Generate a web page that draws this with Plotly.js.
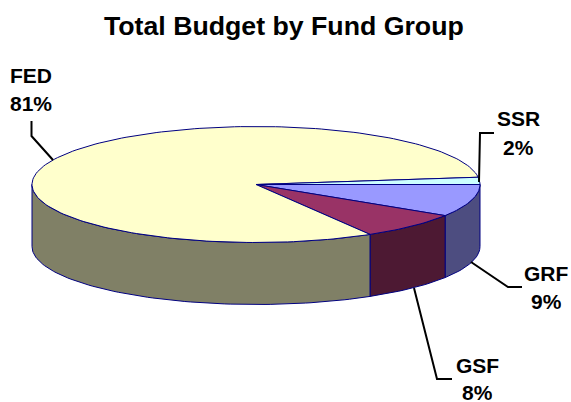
<!DOCTYPE html>
<html><head><meta charset="utf-8">
<script src="https://cdn.plot.ly/plotly-3.0.1.min.js"></script>
<style>html,body{margin:0;padding:0;background:#fff}#c{width:571px;height:402px}</style>
</head><body><div id="c"></div>
<script>
var chartTitle = "Total Budget by Fund Group";
var categories = ["GRF", "GSF", "FED", "SSR"];
var values = [9, 7.5, 81.5, 2];
var percentLabels = ["9%", "8%", "81%", "2%"];
var topColors = ["#9999FF", "#993366", "#FFFFCC", "#CCFFFF"];
var sideColors = ["#4D4D80", "#4D1933", "#808066", "#667F80"];
var labelX = [546, 477, 31, 518];
var labelNameY = [273, 365, 75, 118];
var labelPctY = [301, 392, 103, 147];
var leaderX = [[471, 508, 522], [414, 437, 452], [31.5, 31.5, 53], [494, 480, 479]];
var leaderY = [[262, 287, 287], [288, 379, 379], [121, 136, 160], [133, 133, 182]];

var CX = 256, CY = 184.5, RX = 224, RY = 58, DEPTH = 62, OUTLINE = "#000080";

function arc(a0, a1, dy) {
  var n = Math.max(2, Math.ceil(Math.abs(a1 - a0) / 1.5)), xs = [], ys = [];
  for (var i = 0; i <= n; i++) {
    var a = (a0 + (a1 - a0) * i / n) * Math.PI / 180;
    xs.push(CX + RX * Math.cos(a));
    ys.push(CY + dy + RY * Math.sin(a));
  }
  return {x: xs, y: ys};
}
var total = values.reduce(function (s, v) { return s + v; }, 0);
var traces = [], tops = [], start = 0;
values.forEach(function (v, i) {
  var end = start + v / total * 360;
  // visible side wall: the front half of the ellipse only (0..180 deg)
  var a0 = start, a1 = Math.min(end, 180);
  if (a0 < 180) {
    var t = arc(a0, a1, 0), b = arc(a1, a0, DEPTH);
    traces.push({type: "scatter", mode: "lines", x: t.x.concat(b.x, [t.x[0]]), y: t.y.concat(b.y, [t.y[0]]),
      fill: "toself", fillcolor: sideColors[i], line: {color: OUTLINE, width: 1}, hoverinfo: "skip"});
  }
  var w = arc(start, end, 0);
  tops.push({type: "scatter", mode: "lines", x: [CX].concat(w.x, [CX]), y: [CY].concat(w.y, [CY]),
    fill: "toself", fillcolor: topColors[i], line: {color: OUTLINE, width: 1}, name: categories[i], hoverinfo: "skip"});
  start = end;
});
traces = traces.concat(tops);
categories.forEach(function (c, i) {
  traces.push({type: "scatter", mode: "lines", x: leaderX[i], y: leaderY[i],
    line: {color: "#000000", width: 2}, hoverinfo: "skip"});
});
var annotations = [];
var font = {family: "Liberation Sans, Arial, sans-serif", size: 21, color: "#000000"};
categories.forEach(function (c, i) {
  annotations.push({x: labelX[i], y: labelNameY[i], text: "<b>" + c + "</b>", showarrow: false, font: font, xanchor: "center", yanchor: "middle", height: 18, borderpad: 0});
  annotations.push({x: labelX[i], y: labelPctY[i], text: "<b>" + percentLabels[i] + "</b>", showarrow: false, font: font, xanchor: "center", yanchor: "middle", height: 18, borderpad: 0});
});
annotations.push({x: 283.5, y: 26, text: "<b>" + chartTitle + "</b>", showarrow: false, xanchor: "center", yanchor: "middle",
  font: {family: font.family, size: 26.7, color: "#000000"}});
var hidden = {visible: false, fixedrange: true};
Plotly.newPlot("c", traces, {
  width: 571, height: 402, showlegend: false,
  margin: {l: 0, r: 0, t: 0, b: 0},
  paper_bgcolor: "#fff", plot_bgcolor: "#fff",
  xaxis: Object.assign({range: [0, 571]}, hidden),
  yaxis: Object.assign({range: [402, 0]}, hidden),
  annotations: annotations
}, {displayModeBar: false, staticPlot: true});
</script></body></html>
